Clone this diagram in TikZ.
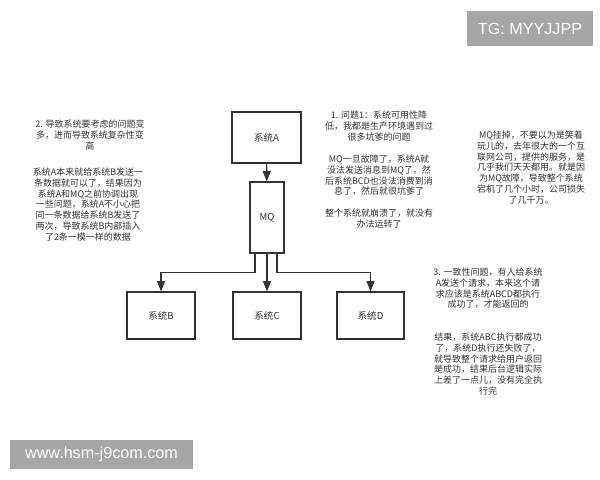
\documentclass[tikz,border=0pt]{standalone}
\usepackage{fontspec}
\setmainfont{Liberation Sans}
\newfontfamily\cjk{Noto Sans CJK SC}
\usetikzlibrary{arrows.meta}

\definecolor{ink}{HTML}{333333}
\definecolor{markgray}{HTML}{A6A6A6}

\tikzset{
	sysbox/.style={draw=ink, line width=0.8pt, text=ink, font=\cjk\fontsize{6.8}{8}\selectfont},
	note/.style={text=ink, align=center, inner sep=0pt, anchor=north, font=\cjk\fontsize{6.4}{7.6}\selectfont},
	arr/.style={draw=ink, line width=0.8pt, -{Triangle[length=2.6mm, width=2mm]}},
	wmark/.style={fill=markgray, text=white, inner sep=0pt, font=\fontsize{11.5}{12}\selectfont}
}

\begin{document}
\begin{tikzpicture}[x=0.025cm, y=-0.025cm]
		\useasboundingbox (0, 0) rectangle (600, 480);
	
		% systems
		\node[sysbox, minimum width=1.725cm, minimum height=1.275cm] (sysa) at (266.5, 137.5) {系统A};
		\node[sysbox, minimum width=0.85cm, minimum height=1.775cm] (mq) at (267, 217.5) {MQ};
		\node[sysbox, minimum width=1.7cm, minimum height=1.175cm] (sysb) at (161, 315.5) {系统B};
		\node[sysbox, minimum width=1.7cm, minimum height=1.175cm] (sysc) at (267, 315.5) {系统C};
		\node[sysbox, minimum width=1.675cm, minimum height=1.175cm] (sysd) at (370.5, 315.5) {系统D};
		
		\draw[arr] (sysa) -- (mq);
		\draw[arr] ([xshift=-0.3cm]mq.south) -- ++(0, 19) -| (sysb);
		\draw[arr] (mq) -- (sysc);
		\draw[arr] ([xshift=0.25cm]mq.south) -- ++(0, 19) -| (sysd);
		
		% notes
		\node[note] (q2) at (90, 120) {2. 导致系统要考虑的问题变\\多，进而导致系统复杂性变\\高};
		\node[note] (q2a) at (88, 168) {系统A本来就给系统B发送一\\条数据就可以了，结果因为\\系统A和MQ之前协调出现\\一些问题，系统A不小心把\\同一条数据给系统B发送了\\两次，导致系统B内部插入\\了2条一模一样的数据};
		
		\node[note] (q1) at (379, 111) {1. 问题1：系统可用性降\\低，我都是生产环境遇到过\\很多坑爹的问题};
		\node[note] (q1a) at (379, 155) {MQ一旦故障了，系统A就\\没法发送消息到MQ了，然\\后系统BCD也没法消费到消\\息了，然后就很坑爹了};
		\node[note] (q1b) at (379, 209) {整个系统就崩溃了，就没有\\办法运转了};
		
		\node[note] (mqnote) at (531, 131) {MQ挂掉，不要以为是笑着\\玩儿的，去年很大的一个互\\联网公司，提供的服务，是\\几乎我们天天都用。就是因\\为MQ故障，导致整个系统\\宕机了几个小时，公司损失\\了几千万。};
		
		\node[note] (q3) at (488, 268) {3. 一致性问题，有人给系统\\A发送个请求，本来这个请\\求应该是系统ABCD都执行\\成功了，才能返回的};
		\node[note] (q3a) at (488, 333) {结果，系统ABC执行都成功\\了，系统D执行还失败了，\\就导致整个请求给用户返回\\是成功，结果后台逻辑实际\\上差了一点儿，没有完全执\\行完};
		
		% watermarks
		\node[wmark, minimum width=3.15cm, minimum height=0.875cm] (tg) at (530, 28.5) {TG: MYYJJPP};
		\node[wmark, minimum width=4.575cm, minimum height=0.725cm] (www) at (101.5, 454.5) {www.hsm-j9com.com};
	\end{tikzpicture}
\end{document}
